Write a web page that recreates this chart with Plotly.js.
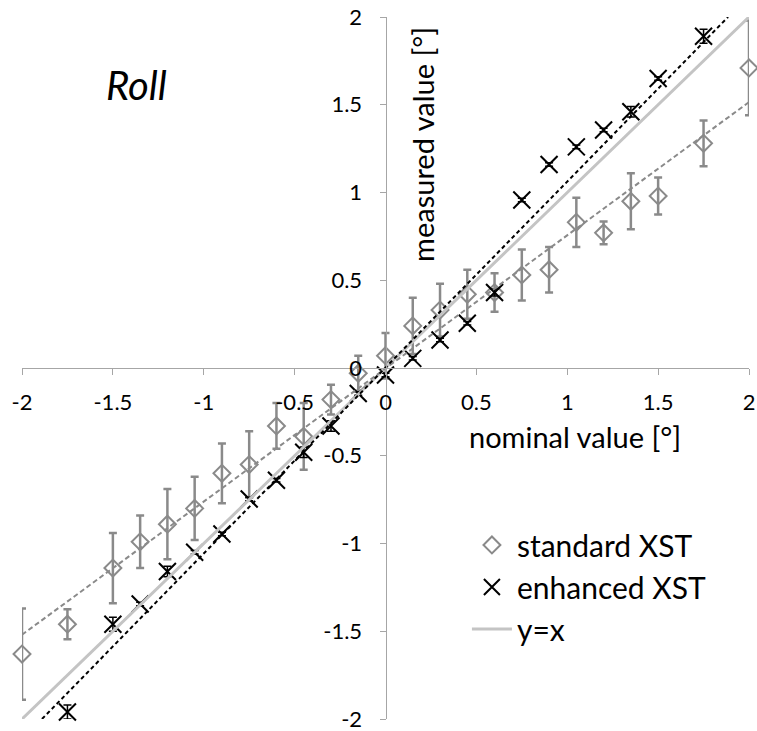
<!DOCTYPE html>
<html>
<head>
<meta charset="utf-8">
<script src="https://cdn.plot.ly/plotly-3.0.1.min.js"></script>
<style>
html,body{margin:0;padding:0;background:#fff;}
#chart{width:757px;height:731px;}
</style>
</head>
<body>
<div id="chart"></div>
<script>
// ---- data ----
var stdX   = [-2, -1.75, -1.5, -1.35, -1.2, -1.05, -0.9, -0.75, -0.6, -0.45, -0.3, -0.15, 0, 0.15, 0.3, 0.45, 0.6, 0.75, 0.9, 1.05, 1.2, 1.35, 1.5, 1.75, 2];
var stdY   = [-1.63, -1.46, -1.14, -0.99, -0.89, -0.80, -0.60, -0.55, -0.33, -0.39, -0.18, -0.03, 0.07, 0.24, 0.33, 0.42, 0.43, 0.53, 0.56, 0.83, 0.77, 0.95, 0.98, 1.28, 1.71];
var stdErr = [0.26, 0.085, 0.20, 0.15, 0.20, 0.18, 0.17, 0.19, 0.13, 0.19, 0.085, 0.10, 0.13, 0.16, 0.15, 0.14, 0.11, 0.145, 0.13, 0.14, 0.065, 0.16, 0.105, 0.13, 0.27];

var enhX   = [-1.75, -1.5, -1.35, -1.2, -1.05, -0.9, -0.75, -0.6, -0.45, -0.3, -0.15, 0, 0.15, 0.3, 0.45, 0.6, 0.75, 0.9, 1.05, 1.2, 1.35, 1.5, 1.75];
var enhY   = [-1.96, -1.46, -1.345, -1.16, -1.05, -0.946, -0.746, -0.64, -0.48, -0.33, -0.145, -0.04, 0.055, 0.16, 0.255, 0.43, 0.957, 1.16, 1.26, 1.356, 1.46, 1.65, 1.89];
var enhErr = [0.04, 0.04, 0.01, 0.03, 0.01, 0.01, 0.01, 0.01, 0.03, 0.03, 0.01, 0.01, 0.01, 0.01, 0.01, 0.02, 0.01, 0.01, 0.01, 0.01, 0.03, 0.01, 0.04];

var identX = [-2, 2];
var identY = [-2, 2];

// trend lines (endpoints)
var stdTrendX = [-2, 2];
var stdTrendY = [-1.52, 1.515];
var enhTrendX = [-1.89, 1.885];
var enhTrendY = [-2.0, 2.0];

var tickVals = [-2, -1.5, -1, -0.5, 0, 0.5, 1, 1.5, 2];
var tickText = ['-2', '-1.5', '-1', '-0.5', '0', '0.5', '1', '1.5', '2'];

var FONT = 'Lato, "Open Sans", sans-serif';
var GRAY = '#8a8a8a';

var traces = [
  {
    x: stdX, y: stdY, type: 'scatter', mode: 'markers', name: 'standard XST',
    legendgroup: 'a', cliponaxis: false,
    marker: {symbol: 'diamond-open', size: 13, color: GRAY, line: {color: GRAY, width: 2}},
    error_y: {type: 'data', array: stdErr, visible: true, color: GRAY, thickness: 2.5, width: 4}
  },
  {
    x: enhX, y: enhY, type: 'scatter', mode: 'markers', name: 'enhanced XST',
    legendgroup: 'b', cliponaxis: false,
    marker: {symbol: 'x-thin-open', size: 17, color: '#000', line: {color: '#000', width: 2}},
    error_y: {type: 'data', array: enhErr, visible: true, color: '#000', thickness: 1.5, width: 4}
  },
  {
    x: identX, y: identY, type: 'scatter', mode: 'lines', name: 'y=x',
    legendgroup: 'c',
    line: {color: '#c4c4c4', width: 3}
  },
  {
    x: stdTrendX, y: stdTrendY, type: 'scatter', mode: 'lines', showlegend: false,
    line: {color: GRAY, width: 2, dash: '5px,3px'}
  },
  {
    x: enhTrendX, y: enhTrendY, type: 'scatter', mode: 'lines', showlegend: false,
    line: {color: '#000', width: 2, dash: '4px,3px'}
  }
];

var axisCommon = {
  range: [-2, 2],
  showgrid: false,
  zeroline: false,
  showline: true,
  linecolor: '#a6a6a6',
  linewidth: 1,
  ticks: 'outside',
  ticklen: 6,
  tickcolor: '#a6a6a6',
  tickmode: 'array',
  tickvals: tickVals,
  ticktext: tickText,
  tickfont: {family: FONT, size: 22, color: '#000'},
  ticklabeloverflow: 'allow',
  anchor: 'free',
  position: 0.5,
  fixedrange: true
};

var layout = {
  width: 757, height: 731,
  margin: {l: 22, r: 8, t: 17, b: 12},
  paper_bgcolor: '#fff', plot_bgcolor: '#fff',
  font: {family: FONT, color: '#000'},
  xaxis: Object.assign({}, axisCommon, {ticklabelstandoff: 9}),
  yaxis: Object.assign({}, axisCommon, {ticklabelstandoff: 13}),
  showlegend: true,
  legend: {
    x: 0.612, y: 0.285, xanchor: 'left', yanchor: 'top',
    bgcolor: 'rgba(0,0,0,0)', borderwidth: 0,
    font: {family: FONT, size: 30, color: '#000'},
    itemwidth: 40,
    traceorder: 'grouped',
    tracegroupgap: 0
  },
  annotations: [
    {text: 'nominal value [°]', xref: 'paper', yref: 'paper', x: 0.761, y: 0.402,
     xanchor: 'center', yanchor: 'middle', showarrow: false,
     font: {family: FONT, size: 29, color: '#000'}},
    {text: 'measured value [°]', xref: 'paper', yref: 'paper', x: 0.550, y: 0.819,
     xanchor: 'center', yanchor: 'middle', showarrow: false, textangle: -90,
     font: {family: FONT, size: 29, color: '#000'}},
    {text: '<i>Roll</i>', xref: 'paper', yref: 'paper', x: 0.158, y: 0.903,
     xanchor: 'center', yanchor: 'middle', showarrow: false,
     font: {family: FONT, size: 40, color: '#000'}}
  ]
};

Plotly.newPlot('chart', traces, layout, {displayModeBar: false, staticPlot: true});
</script>
</body>
</html>
